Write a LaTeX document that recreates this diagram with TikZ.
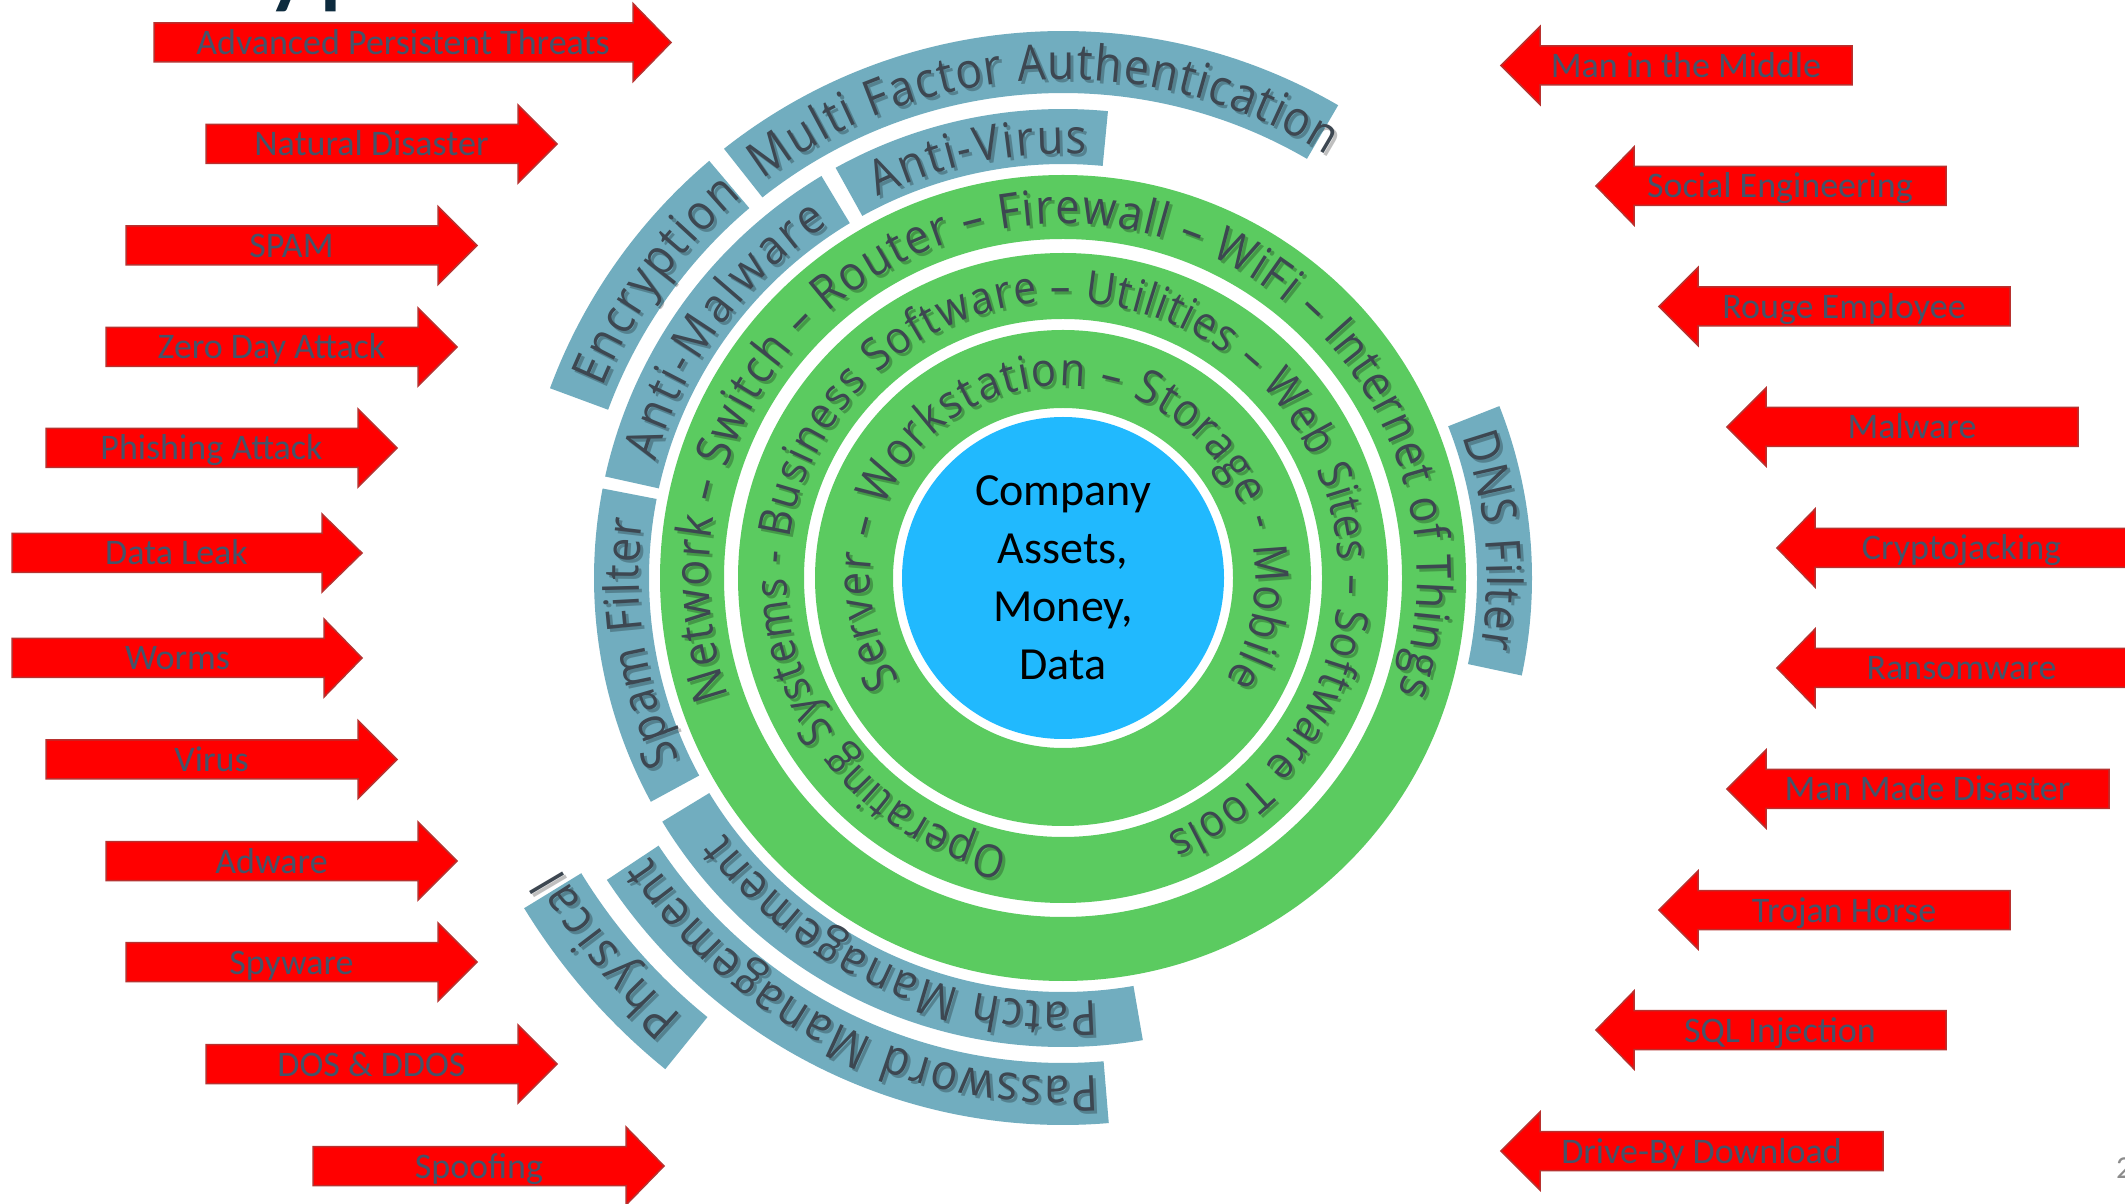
\documentclass[tikz,border=0pt]{standalone}
\usepackage{fontspec}
\setmainfont{Carlito}
\newfontfamily\ringfont[FakeStretch=0.9]{Open Sans}
\usetikzlibrary{decorations.text}

\definecolor{threatred}{HTML}{FF0000}
\definecolor{threatedge}{HTML}{B8312F}
\definecolor{threattext}{HTML}{44546A}
\definecolor{shield}{HTML}{71ADBF}
\definecolor{layer}{HTML}{5BCB60}
\definecolor{core}{HTML}{21B9FE}
\definecolor{ringtext}{HTML}{3D4751}
\definecolor{titlenavy}{HTML}{0D2B3E}
\definecolor{pagegrey}{HTML}{8C8C8C}

\tikzset{
  threat/.style={fill=threatred, draw=threatedge, line width=1.5pt, line join=miter},
  threatlabel/.style={anchor=base, inner sep=0pt, text=threattext,
    font=\fontsize{36}{40}\selectfont},
  shieldband/.style={fill=shield},
  layerring/.style={fill=layer, even odd rule},
}

% arrow coming from the left: name, left end, head base, tip, centre row (page rows from top), label
\newcommand\ThreatFromLeft[6]{%
  \filldraw[threat] (#2,{1203-#5+19.5}) -- (#3,{1203-#5+19.5}) -- (#3,{1203-#5+39})
    -- (#4,{1203-#5}) -- (#3,{1203-#5-39}) -- (#3,{1203-#5-19.5})
    -- (#2,{1203-#5-19.5}) -- cycle;
  \node[threatlabel] (#1) at ({(#2+#3)/2+9.5},{1203-#5-12}) {#6};}

% arrow coming from the right: name, tip, head base, right end, centre row, label
\newcommand\ThreatFromRight[6]{%
  \filldraw[threat] (#4,{1203-#5+19.5}) -- (#3,{1203-#5+19.5}) -- (#3,{1203-#5+39})
    -- (#2,{1203-#5}) -- (#3,{1203-#5-39}) -- (#3,{1203-#5-19.5})
    -- (#4,{1203-#5-19.5}) -- cycle;
  \node[threatlabel] (#1) at ({(#3+#4)/2-10},{1203-#5-12}) {#6};}

% annular sector: start angle, end angle, inner radius, outer radius
\newcommand\Band[4]{%
  \fill[shieldband] (#1:#4) arc[start angle=#1, end angle=#2, radius=#4]
    -- (#2:#3) arc[start angle=#2, end angle=#1, radius=#3] -- cycle;}

% clockwise text on a circle with a soft drop shadow:
% start angle, end angle, baseline radius, size, text
\newcommand\ArcText[5]{%
  \begin{scope}[shift={(3,-3)}, opacity=0.25]
    \path[decorate, decoration={text along path, text align={fit to path},
      text color=black, text={|\ringfont\fontsize{#4}{#4}\selectfont|#5}}]
      (#1:#3) arc[start angle=#1, end angle=#2, radius=#3];
  \end{scope}
  \path[decorate, decoration={text along path, text align={fit to path},
    text color=ringtext, text={|\ringfont\fontsize{#4}{#4}\selectfont|#5}}]
    (#1:#3) arc[start angle=#1, end angle=#2, radius=#3];}

\begin{document}
\begin{tikzpicture}[x=1pt, y=1pt]
\clip (0,0) rectangle (2125,1203);
\fill[white] (0,0) rectangle (2125,1203);

% heading above the page edge
\node[anchor=base west, inner sep=0pt, text=titlenavy,
  font=\fontsize{120}{120}\selectfont] (heading) at (263,1210) {yp};

% page number
\node[anchor=base west, inner sep=0pt, text=pagegrey,
  font=\fontsize{32}{32}\selectfont] (pagenum) at (2116,25) {2};

% threats from the left
\ThreatFromLeft{apt}{154}{633}{671}{42.5}{Advanced Persistent Threats}
\ThreatFromLeft{natural}{206}{518}{557}{144}{Natural Disaster}
\ThreatFromLeft{spam}{126}{438}{477}{245.5}{SPAM}
\ThreatFromLeft{zeroday}{106}{418}{457}{347}{Zero Day Attack}
\ThreatFromLeft{phishing}{46}{358}{397}{448}{Phishing Attack}
\ThreatFromLeft{leak}{12}{322}{362}{553}{Data Leak}
\ThreatFromLeft{worms}{12}{324}{362}{658}{Worms}
\ThreatFromLeft{virus}{46}{358}{397}{759.5}{Virus}
\ThreatFromLeft{adware}{106}{418}{457}{861}{Adware}
\ThreatFromLeft{spyware}{126}{438}{477}{962}{Spyware}
\ThreatFromLeft{dos}{206}{518}{557}{1064}{DOS \& DDOS}
\ThreatFromLeft{spoofing}{313}{626}{664}{1166}{Spoofing}

% threats from the right
\ThreatFromRight{mitm}{1501}{1540}{1852}{65.5}{Man in the Middle}
\ThreatFromRight{social}{1596}{1634}{1946}{186}{Social Engineering}
\ThreatFromRight{rouge}{1659}{1698}{2010}{306.5}{Rouge Employee}
\ThreatFromRight{malware}{1727}{1766}{2078}{427}{Malware}
\ThreatFromRight{crypto}{1777}{1815}{2128}{548}{Cryptojacking}
\ThreatFromRight{ransom}{1777}{1815}{2128}{668}{Ransomware}
\ThreatFromRight{manmade}{1727}{1766}{2109}{789}{Man Made Disaster}
\ThreatFromRight{trojan}{1659}{1698}{2010}{910}{Trojan Horse}
\ThreatFromRight{sql}{1596}{1634}{1946}{1030}{SQL Injection}
\ThreatFromRight{driveby}{1501}{1540}{1883}{1151}{Drive-By Download}

% defence rings around the assets
\begin{scope}[shift={(1063,625)}]
  \fill[layerring] (0,0) circle[radius=403] (0,0) circle[radius=339];
  \fill[layerring] (0,0) circle[radius=325] (0,0) circle[radius=259];
  \fill[layerring] (0,0) circle[radius=248] (0,0) circle[radius=170];
  \fill[core] (0,0) circle[radius=161];

  % first protective layer
  \Band{169}{208.5}{414}{469}
  \Band{121}{167.5}{414}{469}
  \Band{84.5}{119}{414}{469}
  \Band{-12}{21.5}{414}{469}
  \Band{211.3}{279.8}{414}{469}
  % second protective layer
  \Band{130.3}{159.7}{485}{547}
  \Band{59.8}{128.3}{485}{547}
  \Band{213.5}{274.8}{485}{547}
  % outermost layer
  \Band{211.5}{231}{565}{632}

  \ArcText{127}{58}{498.5}{49.5}{Multi Factor Authentication}
  \ArcText{157.6}{130.1}{498.5}{49.5}{Encryption}
  \ArcText{274}{214}{498.5}{49.5}{Password Management}
  \ArcText{229}{210}{580.5}{50.5}{Physical}
  \ArcText{116}{86.8}{424}{48.4}{Anti-Virus}
  \ArcText{164}{123.5}{424}{48.4}{Anti-Malware}
  \ArcText{205.4}{172.1}{424}{48.4}{Spam Filter}
  \ArcText{19.5}{-9.5}{424}{48.4}{DNS Filter}
  \ArcText{274.5}{217}{424}{48.4}{Patch Management}
  \ArcText{199.5}{-19}{354}{48.2}{Network – Switch – Router – Firewall – WiFi – Internet of Things}
  \ArcText{258.7}{-68}{276}{45.4}{Operating Systems - Business Software – Utilities – Web Sites – Software Tools}
  \ArcText{212}{-32}{192.5}{46.5}{Server – Workstation – Storage - Mobile}

  \node[align=center, text=black, font=\fontsize{46}{58}\selectfont] (assets) at (0,0)
    {Company\\Assets,\\Money,\\Data};
\end{scope}
\end{tikzpicture}
\end{document}
